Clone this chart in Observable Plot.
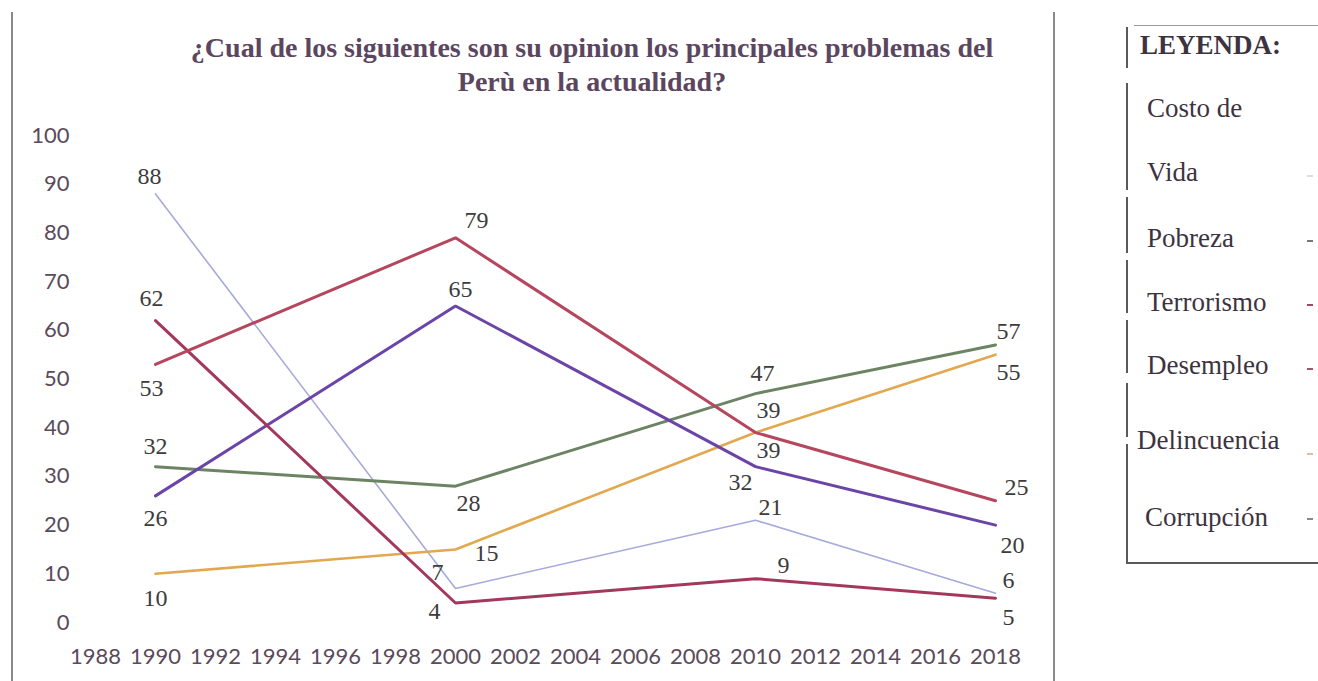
<!DOCTYPE html>
<html>
<head>
<meta charset="utf-8">
<script src="https://cdn.jsdelivr.net/npm/d3@7"></script>
<script src="https://cdn.jsdelivr.net/npm/@observablehq/plot@0.6"></script>
<style>
  html, body { margin: 0; padding: 0; background: #fff; }
  #wrap { position: relative; width: 1318px; height: 681px; overflow: hidden; }
  #chart { position: absolute; left: 0; top: 0; }
  .abs { position: absolute; line-height: 1; white-space: nowrap; }
  .title { font-family: "Liberation Serif", "Times New Roman", serif; font-weight: bold; font-size: 28px; color: #5b4660; left: 592px; transform: translate(-50%, -50%); }
  .leg { font-family: "Liberation Serif", "Times New Roman", serif; font-size: 27px; color: #3d3340; transform: translateY(-50%); }
  .dash { position: absolute; width: 6px; height: 2px; }
  .vline { position: absolute; width: 1.5px; background: #6a6a6a; }
  .hline { position: absolute; height: 1.5px; background: #6a6a6a; }
</style>
</head>
<body>
<div id="wrap">
  <div id="chart"></div>
</div>
<script>
// ---- data ----
const years = [1990, 2000, 2010, 2018];
const seriesNames = ["Costo de Vida", "Pobreza", "Terrorismo", "Desempleo", "Delincuencia", "Corrupción"];
const costoDeVida = [62, 4, 9, 5];
const pobreza = [26, 65, 32, 20];
const terrorismo = [88, 7, 21, 6];
const desempleo = [53, 79, 39, 25];
const delincuencia = [10, 15, 39, 55];
const corrupcion = [32, 28, 47, 57];
const xTicks = [1988, 1990, 1992, 1994, 1996, 1998, 2000, 2002, 2004, 2006, 2008, 2010, 2012, 2014, 2016, 2018];
const yTicks = [0, 10, 20, 30, 40, 50, 60, 70, 80, 90, 100];
const titleLines = ["¿Cual de los siguientes son su opinion los principales problemas del", "Perù en la actualidad?"];
const legendTitle = "LEYENDA:";
const legendLines = ["Costo de", "Vida", "Pobreza", "Terrorismo", "Desempleo", "Delincuencia", "Corrupción"];

// ---- styling (separate from data) ----
const colors = {
  "Costo de Vida": "#a3385d",
  "Pobreza": "#6b44a8",
  "Terrorismo": "#a6aadc",
  "Desempleo": "#b5465e",
  "Delincuencia": "#e2a84f",
  "Corrupción": "#6c8463"
};
const widths = {"Costo de Vida": 3, "Pobreza": 3, "Terrorismo": 1.6, "Desempleo": 3, "Delincuencia": 2.6, "Corrupción": 3};
// label offsets [dx, dy] per series per year
const labelOffsets = {
  "Costo de Vida": [[-4, -22], [-21, 8], [28, -13], [13, 19]],
  "Pobreza": [[0, 22], [5, -17], [-15, 16], [17, 20]],
  "Terrorismo": [[-6, -18], [-18, -16], [15, -13], [13, -13]],
  "Desempleo": [[-4, 24], [21, -17], [13, -22], [21, -13]],
  "Delincuencia": [[0, 25], [31, 4], [13, 18], [13, 18]],
  "Corrupción": [[0, -20], [13, 17], [7, -20], [13, -14]]
};

const valuesBySeries = {
  "Costo de Vida": costoDeVida,
  "Pobreza": pobreza,
  "Terrorismo": terrorismo,
  "Desempleo": desempleo,
  "Delincuencia": delincuencia,
  "Corrupción": corrupcion
};
const rows = [];
for (const s of seriesNames) {
  valuesBySeries[s].forEach((v, i) => rows.push({series: s, year: years[i], value: v, idx: i}));
}

const lineOrder = ["Terrorismo", "Delincuencia", "Corrupción", "Pobreza", "Costo de Vida", "Desempleo"];
const lineMarks = lineOrder.map(s => Plot.line(rows.filter(r => r.series === s), {
  x: "year", y: "value", stroke: colors[s], strokeWidth: widths[s], strokeLinejoin: "miter"
}));
const labelMarks = rows.map(r => Plot.text([r], {
  x: "year", y: "value", text: d => String(d.value),
  dx: labelOffsets[r.series][r.idx][0], dy: labelOffsets[r.series][r.idx][1],
  fontFamily: "Liberation Serif, Times New Roman, serif", fontSize: 24, fill: "#3c3c3c"
}));

const plot = Plot.plot({
  width: 1318,
  height: 681,
  marginLeft: 95,
  marginRight: 323,
  marginTop: 135,
  marginBottom: 59,
  style: {fontFamily: "Lato, Open Sans, sans-serif", fontSize: "22px", color: "#5a4a5a", background: "transparent", overflow: "visible"},
  x: {domain: [1988, 2018], label: null},
  y: {domain: [0, 100], label: null},
  marks: [
    Plot.axisX({ticks: xTicks, tickFormat: d => String(d), tickSize: 0, tickPadding: 26, label: null}),
    Plot.axisY({ticks: yTicks, tickSize: 0, tickPadding: 26, label: null}),
    ...lineMarks,
    ...labelMarks
  ]
});
document.getElementById("chart").appendChild(plot);

// ---- title, frame, legend ----
const wrap = document.getElementById("wrap");
function addDiv(cls, text, styles) {
  const d = document.createElement("div");
  d.className = cls;
  if (text != null) d.textContent = text;
  Object.assign(d.style, styles);
  wrap.appendChild(d);
  return d;
}
addDiv("abs title", titleLines[0], {top: "48px"});
addDiv("abs title", titleLines[1], {top: "82px"});

// frame lines
addDiv("vline", null, {left: "11px", top: "12px", height: "669px", background: "#8a8a8a"});
addDiv("vline", null, {left: "1053px", top: "12px", height: "669px", background: "#8a8a8a"});

// legend box
addDiv("hline", null, {left: "1134px", top: "25px", width: "184px", height: "1px", background: "#9a9a9a"});
[[27, 68], [83, 190], [197, 253], [260, 313], [320, 373], [383, 437], [444, 563]].forEach(([a, b]) =>
  addDiv("vline", null, {left: "1126px", top: a + "px", height: (b - a) + "px", background: "#5a5a5a"}));
addDiv("hline", null, {left: "1126px", top: "562px", width: "192px", background: "#5a5a5a"});

addDiv("abs leg", legendTitle, {left: "1140px", top: "45px", fontWeight: "bold"});
const legendPos = [[1147, 108], [1147, 172], [1147, 238], [1147, 302], [1147, 365], [1137, 440], [1145, 517]];
legendLines.forEach((t, i) => addDiv("abs leg", t, {left: legendPos[i][0] + "px", top: legendPos[i][1] + "px"}));
const dashes = [["#dddddd", 175], ["#777777", 240], ["#9b4a62", 304], ["#9b5a6a", 368], ["#e5b9a5", 453], ["#888888", 518]];
dashes.forEach(([c, y]) => addDiv("dash", null, {left: "1307px", top: y + "px", background: c}));
</script>
</body>
</html>
